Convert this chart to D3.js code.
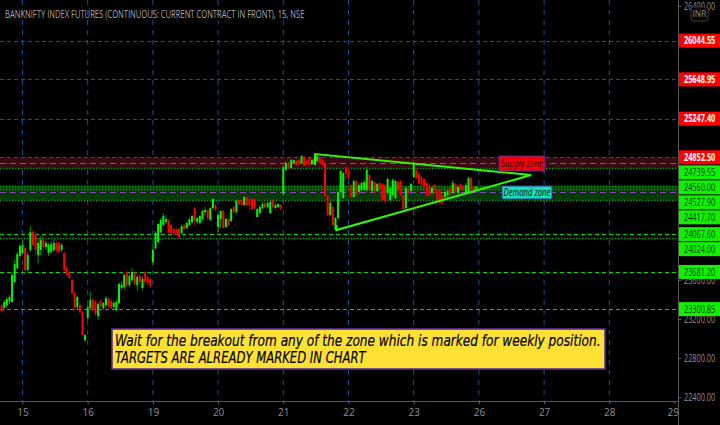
<!DOCTYPE html>
<html><head><meta charset="utf-8">
<style>html,body{margin:0;padding:0;background:#000;overflow:hidden}svg{display:block}</style>
<script src="https://cdn.jsdelivr.net/npm/d3@7"></script></head><body>
<svg id="c" width="720" height="425"></svg>
<script>
const title = "BANKNIFTY INDEX FUTURES (CONTINUOUS: CURRENT CONTRACT IN FRONT), 15, NSE";
const dayLabels = ["15","16","19","20","21","22","23","26","27","28","29"];
const barsPerDay = 25;
const firstBar = -8;
const priceTicks = [26400,23600,23200,22800,22400];
const redLevels = [26044.55,25648.95,25247.40,24852.50];
const greenDashed = [24067.60,23681.20,23300.85];
const greenDotted = [24739.55,24560.00,24527.90,24417.70,24024.00];
const midLevels = [24799,24493];
const supplyZone = [24852.5,24745];
const demandZone = [24560,24417.7];
const triangleBars = [112.2,112.2,195,120.4,120.4];
const trianglePrices = [24774,24886,24671,24109,24160];
const note = ["Wait for the breakout from any of the zone which is marked for weekly position.","TARGETS ARE ALREADY MARKED IN CHART"];

const opens = [23343,23312,23343,23384,23374,23578,23721,23844,
23874,23925,23701,23905,24089,24069,23854,23905,24017,23936,23874,23885,23905,23977,23977,23905,23874,23721,23680,23598,23466,23322,23343,23271,22985,
23210,23312,23394,23374,23230,23384,23312,23343,23404,23384,23322,23292,23363,23517,23527,23680,23547,23598,23670,23547,23639,23517,23680,23629,23609,
23782,23925,23987,24089,24161,24191,24212,24161,24120,24120,24120,24079,24161,24130,24161,24191,24334,24191,24181,24222,24293,24314,24212,24334,24365,
24140,24222,24304,24140,24222,24201,24344,24293,24416,24416,24365,24447,24426,24426,24426,24242,24283,24334,24385,24344,24283,24416,24334,24344,24365,
24477,24723,24794,24743,24794,24815,24825,24794,24855,24815,24855,24784,24794,24815,24855,24825,24794,24457,24263,24344,24109,24232,24498,24436,24753,
24702,24569,24447,24610,24498,24518,24518,24518,24672,24508,24600,24508,24590,24580,24569,24488,24416,24467,24436,24600,24610,24467,24334,24539,24508,
24651,24723,24682,24651,24631,24590,24559,24488,24569,24518,24518,24467,24447,24467,24539,24488,24580,24488,24580,24559,24488,24488,24641,24549,24518];
const closes = [23282,23374,23404,23425,23650,23762,23864,23946,
23956,23701,23854,24089,23956,23905,23977,24007,23936,23977,23956,23966,23977,23905,23885,23956,23701,23650,23619,23466,23322,23425,23271,23036,23036,
23322,23394,23292,23251,23353,23333,23363,23414,23333,23312,23363,23374,23558,23547,23650,23547,23639,23680,23558,23629,23578,23609,23578,23568,23537,
23905,24079,24171,24212,24252,24222,24089,24079,24069,24079,24038,24150,24120,24181,24222,24252,24201,24232,24252,24304,24314,24232,24334,24426,24314,
24263,24304,24130,24222,24161,24324,24293,24406,24375,24365,24447,24365,24365,24324,24334,24324,24344,24375,24344,24385,24396,24344,24365,24375,24324,
24753,24794,24743,24825,24825,24774,24784,24866,24763,24784,24774,24825,24845,24866,24794,24774,24457,24263,24385,24161,24232,24498,24712,24692,24682,
24641,24447,24610,24467,24569,24590,24600,24723,24518,24610,24498,24580,24528,24416,24406,24631,24539,24620,24610,24518,24467,24324,24539,24488,24580,
24794,24641,24590,24569,24559,24457,24467,24539,24518,24416,24385,24385,24498,24508,24467,24590,24498,24549,24518,24518,24569,24641,24518,24508,24549];
const highs = [23353,23394,23425,23445,23680,23803,23885,23966,
24007,23946,23885,24150,24109,24089,24028,24048,24058,23997,23977,23997,24007,23997,23987,23977,23885,23741,23701,23609,23476,23435,23363,23282,23046,
23343,23476,23414,23394,23374,23404,23374,23435,23425,23404,23384,23394,23578,23588,23660,23701,23650,23721,23690,23650,23650,23629,23690,23639,23619,
23956,24099,24181,24232,24283,24263,24222,24171,24130,24130,24130,24161,24171,24191,24232,24263,24344,24242,24263,24314,24344,24324,24344,24436,24375,
24273,24314,24314,24232,24232,24334,24355,24416,24426,24436,24457,24457,24436,24436,24436,24334,24365,24396,24396,24406,24406,24426,24385,24385,24375,
24774,24815,24815,24835,24825,24825,24825,24876,24866,24825,24866,24835,24855,24886,24866,24835,24804,24467,24416,24355,24242,24508,24723,24702,24763,
24743,24580,24620,24620,24590,24600,24620,24753,24682,24620,24610,24590,24600,24590,24580,24641,24559,24641,24620,24610,24620,24477,24549,24549,24590,
24825,24743,24702,24661,24641,24600,24580,24559,24580,24528,24528,24477,24518,24518,24549,24620,24590,24569,24590,24569,24590,24651,24651,24559,24559];
const lows = [23271,23302,23322,23353,23363,23568,23701,23823,
23864,23690,23690,23885,23946,23854,23772,23854,23905,23905,23844,23864,23885,23874,23864,23885,23690,23639,23609,23445,23302,23302,23251,23026,22965,
23190,23292,23271,23230,23190,23312,23292,23312,23312,23302,23302,23282,23353,23496,23506,23527,23527,23578,23547,23486,23558,23496,23547,23547,23517,
23752,23905,23977,24079,24150,24171,24079,24069,24048,24058,24017,24069,24109,24120,24150,24171,24150,24171,24171,24201,24263,24212,24201,24324,24304,
24089,24130,24120,24130,24150,24191,24273,24273,24365,24365,24355,24355,24314,24314,24314,24242,24273,24324,24334,24324,24273,24334,24324,24334,24314,
24467,24712,24723,24733,24784,24763,24774,24784,24763,24774,24774,24774,24784,24804,24784,24774,24447,24252,24252,24150,24109,24222,24488,24426,24620,
24631,24436,24436,24457,24477,24498,24508,24508,24508,24498,24477,24498,24498,24396,24385,24477,24406,24457,24426,24457,24457,24314,24324,24477,24498,
24641,24631,24580,24569,24549,24436,24457,24467,24488,24406,24375,24375,24416,24416,24457,24477,24477,24477,24508,24498,24477,24477,24508,24498,24508];

const W = 720, H = 425, plotR = 678, plotB = 401;
const GREEN = "#00f500", RED = "#ff0000", TXT = "#8f8f8f";
const x = d3.scaleLinear().domain([0,250]).range([22.5,674.5]);
const y = d3.scaleLinear().domain([26400,22400]).range([5.9,397.3]);
const svg = d3.select("#c");
const font = "'Open Sans',sans-serif";
svg.append("rect").attr("width",W).attr("height",H).attr("fill","#000");

// day grid
const dayIdx = dayLabels.map((_,i)=>i*barsPerDay);
svg.append("g").selectAll("line").data(dayIdx.slice(0,-1)).join("line")
  .attr("x1",d=>x(d)).attr("x2",d=>x(d)).attr("y1",0).attr("y2",plotB)
  .attr("stroke","#1f4f88").attr("stroke-width",1).attr("stroke-dasharray","5 5");

// zones
[[supplyZone,"#3a0a12"],[demandZone,"#063a06"]].forEach(([z,c])=>{
  svg.append("rect").attr("x",0).attr("width",plotR).attr("y",y(z[0])).attr("height",y(z[1])-y(z[0])).attr("fill",c);
});
function levels(arr,color,dash,w){
  svg.append("g").selectAll("line").data(arr).join("line")
   .attr("x1",0).attr("x2",plotR).attr("y1",d=>Math.round(y(d))+.5).attr("y2",d=>Math.round(y(d))+.5)
   .attr("stroke",color).attr("stroke-width",w).attr("stroke-dasharray",dash);
}
levels(redLevels,"#f00000","4 3",1);
levels(greenDashed,"#00d800","4 3",1);
levels(greenDotted,"#00a000","1.5 1.5",1.5);
levels(midLevels,"#9040c0","6 4",1);

// candles
const bars = opens.map((o,i)=>({i:i+firstBar,o,c:closes[i],h:highs[i],l:lows[i]}));
const color = d=>d.c>=d.o?GREEN:RED;
svg.append("g").selectAll("line").data(bars).join("line")
  .attr("x1",d=>x(d.i)).attr("x2",d=>x(d.i)).attr("y1",d=>y(d.h)).attr("y2",d=>y(d.l))
  .attr("stroke",d=>d.c>=d.o?"#009a00":"#b00000").attr("stroke-width",1);
svg.append("g").selectAll("rect").data(bars).join("rect")
  .attr("x",d=>x(d.i)-1).attr("width",2)
  .attr("y",d=>Math.min(y(d.o),y(d.c))).attr("height",d=>Math.max(1,Math.abs(y(d.o)-y(d.c))))
  .attr("fill",color);

// triangle
const triLine = d3.line().x(d=>x(d[0])).y(d=>y(d[1]));
svg.append("path").attr("d",triLine(triangleBars.map((b,i)=>[b,trianglePrices[i]])))
  .attr("fill","none").attr("stroke","#37f500").attr("stroke-width",2);

// text squeezed horizontally to a target width
function fitted(sel,px,py,targetWidth){
  const len = sel.node().getComputedTextLength();
  sel.attr("transform",`translate(${px},${py}) scale(${targetWidth/len},1)`);
  return sel;
}

// tags
function tag(cx,cy,w,h,fill,text,tw){
  svg.append("rect").attr("x",cx-w/2).attr("y",cy-h/2).attr("width",w).attr("height",h)
    .attr("fill",fill).attr("stroke","#3a2fb0").attr("stroke-width",1);
  fitted(svg.append("text").attr("font-family",font).attr("font-style","italic").attr("font-size",10)
    .attr("fill","#0a0a20").text(text),cx-tw/2,cy+3.5,tw);
}
tag(522,163.5,46,15,"#f80000","Supply zone",42);
tag(527,192.5,50,13,"#14e0b0","Demand zone",47);

// axes
const xAxis = d3.axisBottom(x).tickValues(dayIdx).tickFormat((d,i)=>dayLabels[i]).tickSize(3).tickPadding(5);
const gx = svg.append("g").attr("transform",`translate(0,${plotB})`).call(xAxis);
const yAxis = d3.axisRight(y).tickValues(priceTicks).tickFormat(d3.format(".2f")).tickSize(3).tickPadding(3);
const gy = svg.append("g").attr("transform",`translate(${plotR},0)`).call(yAxis);
[gx,gy].forEach(g=>{
  g.selectAll("text").attr("fill",TXT).attr("font-family",font).attr("font-size",10);
  g.selectAll("line").attr("stroke","#666");
  g.select(".domain").remove();
});
gy.selectAll("text").attr("x",0).attr("dy",0).attr("transform","translate(6,3.5) scale(.73,1)");
gx.select(".tick:last-child text").attr("text-anchor","end").attr("x",4);
svg.append("line").attr("x1",0).attr("x2",plotR).attr("y1",plotB+.5).attr("y2",plotB+.5).attr("stroke","#555");
svg.append("line").attr("x1",plotR+.5).attr("x2",plotR+.5).attr("y1",0).attr("y2",H).attr("stroke","#555");

// price labels, stacked so they never overlap
const tags = [...redLevels.map(p=>({p,f:RED,t:"#fff"})),
  ...greenDashed.concat(greenDotted).map(p=>({p,f:"#10f000",t:"#0a3a0a"}))].sort((a,b)=>b.p-a.p);
let last = -100;
tags.forEach(d=>{ d.cy = Math.max(y(d.p),last+15); last = d.cy; });
const tg = svg.append("g").selectAll("g").data(tags).join("g").attr("transform",d=>`translate(679,${d.cy})`);
tg.append("rect").attr("x",0).attr("y",-7).attr("width",41).attr("height",14).attr("fill",d=>d.f);
tg.append("text").attr("transform","translate(5,3.6) scale(.73,1)").attr("font-family",font).attr("font-size",10)
  .attr("font-weight",d=>d.t==="#fff"?700:400).attr("fill",d=>d.t).text(d=>d3.format(".2f")(d.p));

// title
fitted(svg.append("text").attr("font-family",font).attr("font-size",10).attr("fill","#a8a8a8").text(title),5,18,300);

// currency badge
svg.append("rect").attr("x",691).attr("y",7).attr("width",17).attr("height",14).attr("rx",2)
  .attr("fill","#050505").attr("stroke","#3c3c3c");
svg.append("text").attr("x",699.5).attr("y",17).attr("text-anchor","middle").attr("font-family",font)
  .attr("font-size",8.5).attr("fill","#8a8a8a").text("INR");

// note
svg.append("rect").attr("x",112).attr("y",329).attr("width",493).attr("height",40)
  .attr("fill","#ffe135").attr("stroke","#5a2da0").attr("stroke-width",1.6);
const noteFont = "'DejaVu Sans',sans-serif";
[[346,486],[363,251]].forEach(([py,w],i)=>{
  fitted(svg.append("text").attr("font-family",noteFont).attr("font-style","italic").attr("font-size",15.5)
    .attr("fill","#000").attr("stroke","#000").attr("stroke-width",.2).text(note[i]),115,py,w);
});
</script></body></html>
